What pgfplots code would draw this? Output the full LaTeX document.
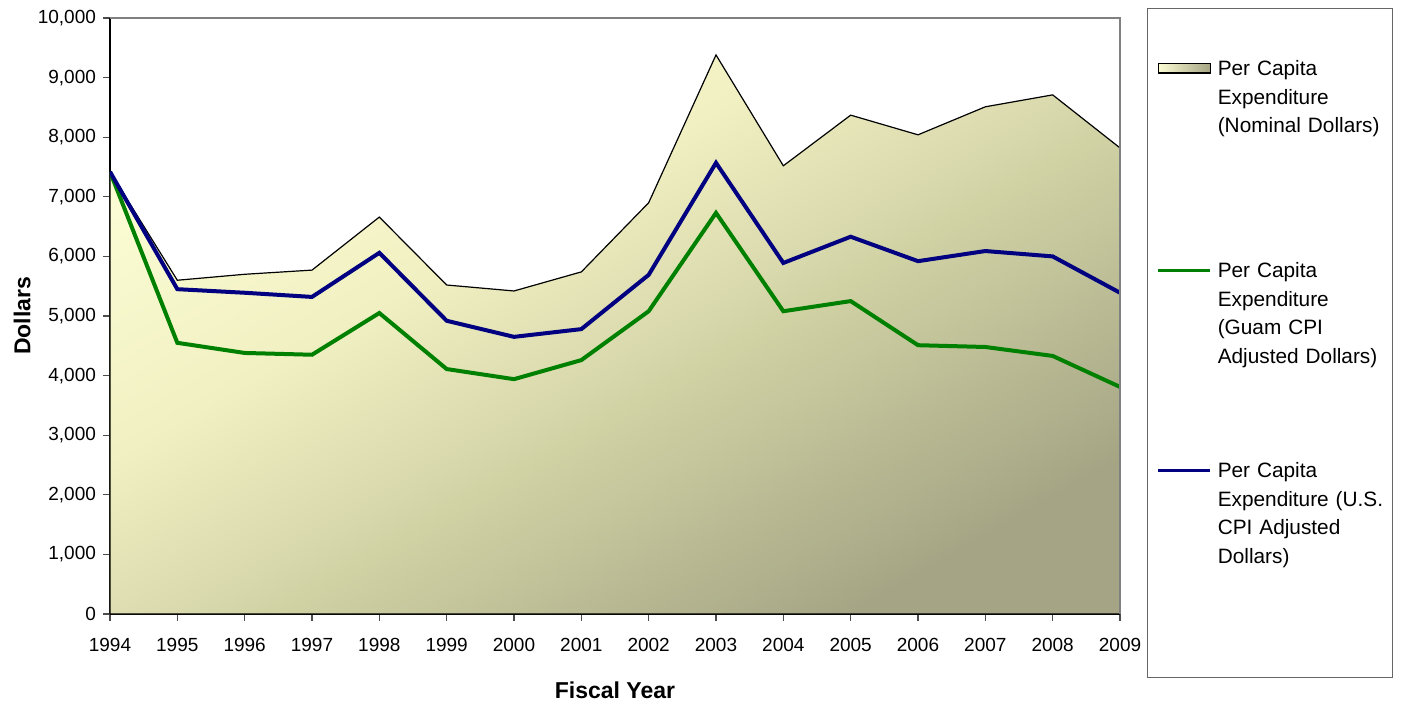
\documentclass[border=0pt]{standalone}
\usepackage{pgfplots}
\pgfplotsset{compat=1.18}
\usepackage{fontspec}
\setmainfont{Liberation Sans}

\definecolor{fillLight}{RGB}{252,252,212}
\definecolor{fillDark}{RGB}{165,165,133}
\definecolor{guamGreen}{RGB}{0,128,0}
\definecolor{usNavy}{RGB}{0,0,128}

% diagonal fill of the nominal area, paler in the middle tones
\pgfdeclareverticalshading{areashade}{100bp}{
    color(0bp)=(fillDark); color(25bp)=(fillDark);
    rgb(45bp)=(0.816,0.824,0.643); rgb(50bp)=(0.863,0.863,0.690);
    rgb(60bp)=(0.941,0.941,0.761);
    color(75bp)=(fillLight); color(100bp)=(fillLight)}

\begin{document}
\begin{tikzpicture}
    % fix the page to the reference proportions (0.5pt per pixel)
    \useasboundingbox (-55pt,-46.5pt) rectangle (645.5pt,307pt);
    \begin{axis}[
        scale only axis,
        width=505pt,
        height=298pt,
        xmin=1994, xmax=2009,
        ymin=0, ymax=10000,
        xtick={1994,1995,...,2009},
        ytick={0,1000,...,10000},
        axis lines*=left,
        axis line style={black, line width=0.8pt},
        tick align=outside,
        major tick length=3.5pt,
        tick style={black!70, line width=0.6pt},
        scaled y ticks=false,
        /pgf/number format/assume math mode=true,
        x tick label style={font=\fontsize{9.5}{11}\selectfont, yshift=-5pt, /pgf/number format/.cd, 1000 sep={}},
        y tick label style={font=\fontsize{9.5}{11}\selectfont, /pgf/number format/.cd, 1000 sep={,}},
        xlabel={Fiscal Year},
        ylabel={Dollars},
        xlabel style={font=\fontsize{11.5}{13}\selectfont\bfseries, at={(axis description cs:0.5,-0.128)}, anchor=center},
        ylabel style={font=\fontsize{11.5}{13}\selectfont\bfseries, at={(axis description cs:-0.087,0.5)}, anchor=center},
        extra description/.code={
            \draw[black!50, line width=0.8pt] (rel axis cs:0,1) -- (rel axis cs:1,1) -- (rel axis cs:1,0);
        },
        legend style={
            at={(rel axis cs:1,1)}, anchor=north west,
            xshift=13.5pt, yshift=5pt,
            draw=black!60, line width=0.6pt, fill=white,
            inner xsep=4.5pt, inner ysep=0pt,
            column sep=3pt, row sep=0pt,
            cells={anchor=base west},
            nodes={inner sep=0pt, text depth=, text height=, text width=83pt, align=left,
                   font=\fontsize{10.4}{14.25}\selectfont},
        },
    ]
        % Nominal dollars (shaded area)
        \addplot[draw=black, line width=0.6pt,
                 shading=areashade, shading angle=30,
                 legend image code/.code={
                    \draw[draw=black, line width=0.6pt, left color=fillLight, right color=fillDark]
                        (0pt,1.3pt) rectangle (26pt,5.9pt);}]
            coordinates {
            (1994,7420) (1995,5600) (1996,5700) (1997,5770) (1998,6660)
            (1999,5520) (2000,5420) (2001,5740) (2002,6900) (2003,9380)
            (2004,7520) (2005,8370) (2006,8040) (2007,8510) (2008,8710)
            (2009,7820)
            } \closedcycle;
        \addlegendentry{\rule{0pt}{33.5pt}Per Capita\\Expenditure\\(Nominal Dollars)\rule[-62.5pt]{0pt}{0pt}}

        % Guam CPI adjusted
        \addplot[guamGreen, line width=2pt,
                 legend image code/.code={
                    \draw[guamGreen, line width=1.6pt] (0pt,3.6pt) -- (26pt,3.6pt);}]
            coordinates {
            (1994,7420) (1995,4550) (1996,4380) (1997,4350) (1998,5050)
            (1999,4110) (2000,3940) (2001,4260) (2002,5080) (2003,6730)
            (2004,5080) (2005,5250) (2006,4510) (2007,4480) (2008,4330)
            (2009,3810)
            };
        \addlegendentry{\rule{0pt}{10pt}Per Capita\\Expenditure\\(Guam CPI\\Adjusted Dollars)\rule[-47.25pt]{0pt}{0pt}}

        % U.S. CPI adjusted
        \addplot[usNavy, line width=2pt,
                 legend image code/.code={
                    \draw[usNavy, line width=1.6pt] (0pt,3.6pt) -- (26pt,3.6pt);}]
            coordinates {
            (1994,7420) (1995,5450) (1996,5390) (1997,5320) (1998,6060)
            (1999,4920) (2000,4650) (2001,4780) (2002,5690) (2003,7570)
            (2004,5890) (2005,6330) (2006,5920) (2007,6090) (2008,6000)
            (2009,5390)
            };
        \addlegendentry{\rule{0pt}{10pt}Per Capita\\Expenditure (U.S.\\CPI Adjusted\\Dollars)\rule[-57pt]{0pt}{0pt}}
    \end{axis}
\end{tikzpicture}
\end{document}
